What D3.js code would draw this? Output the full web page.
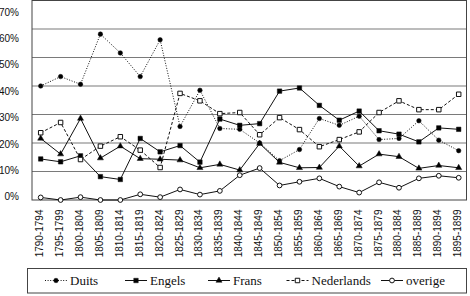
<!DOCTYPE html>
<html>
<head>
<meta charset="utf-8">
<script src="https://cdn.jsdelivr.net/npm/d3@7"></script>
<style>
  html, body { margin: 0; padding: 0; background: #fff; }
  svg { display: block; }
</style>
</head>
<body>
<svg id="chart" width="470" height="296"></svg>
<script>
const categories = ["1790-1794","1795-1799","1800-1804","1805-1809","1810-1814","1815-1819","1820-1824","1825-1829","1830-1834","1835-1839","1840-1844","1845-1849","1850-1854","1855-1859","1860-1864","1865-1869","1870-1874","1875-1879","1880-1884","1885-1889","1890-1894","1895-1899"];
const duits      = [40.0, 43.3, 40.6, 58.2, 51.6, 43.3, 56.2, 25.8, 38.5, 25.1, 24.8, 20.0, 13.8, 17.7, 28.6, 26.2, 29.4, 21.2, 21.6, 27.8, 21.0, 17.3];
const engels     = [14.4, 13.4, 15.5, 8.2, 7.2, 21.6, 16.9, 19.1, 13.3, 28.4, 26.2, 26.8, 38.2, 39.3, 33.2, 28.0, 31.2, 24.3, 23.1, 20.4, 25.3, 24.8];
const frans      = [21.6, 16.1, 28.6, 14.7, 18.9, 14.5, 14.3, 14.0, 11.3, 12.5, 10.5, 19.8, 13.2, 11.3, 11.4, 18.9, 11.9, 16.1, 15.2, 11.1, 12.1, 11.3];
const nederlands = [23.6, 27.2, 14.2, 18.9, 22.2, 17.5, 11.4, 37.4, 34.8, 30.3, 30.7, 22.9, 28.9, 24.7, 18.7, 21.2, 23.9, 30.7, 34.8, 31.7, 31.7, 37.1];
const overige    = [0.9, 0.0, 1.0, 0.0, 0.0, 2.0, 1.0, 3.7, 1.9, 3.2, 8.7, 11.2, 5.1, 6.4, 7.6, 4.7, 2.6, 6.2, 4.3, 7.6, 8.5, 7.8];
const yTicks = [0, 10, 20, 30, 40, 50, 60, 70];
const seriesNames = ["Duits", "Engels", "Frans", "Nederlands", "overige"];

const series = [
  { name: "Duits", values: duits, dash: "1,1.6", symbol: d3.symbolCircle, size: 16, fill: "#000" },
  { name: "Engels", values: engels, dash: null, symbol: d3.symbolSquare, size: 20, fill: "#000" },
  { name: "Frans", values: frans, dash: null, symbol: d3.symbolTriangle, size: 16, fill: "#000" },
  { name: "Nederlands", values: nederlands, dash: "3,2", symbol: d3.symbolSquare, size: 20, fill: "#fff" },
  { name: "overige", values: overige, dash: null, symbol: d3.symbolCircle, size: 18, fill: "#fff" }
];

const svg = d3.select("#chart");
const frame = { left: 32, right: 466.5, top: 0.5, bottom: 200 };

const x = d3.scalePoint().domain(categories).range([40.7, 458.7]);
const y = d3.scaleLinear().domain([0, 70]).range([frame.bottom, frame.top]);
// tick labels in the scanned original sit on a slightly compressed scale
const yLabel = d3.scaleLinear().domain([0, 70]).range([196.7, 12.3]);

// gridlines
svg.append("g").selectAll("line").data(yTicks.filter(d => d > 0 && d < 70)).join("line")
  .attr("x1", frame.left).attr("x2", frame.right)
  .attr("y1", d => y(d)).attr("y2", d => y(d))
  .attr("stroke", "#7a7a7a").attr("stroke-width", 1.2);

// frame
svg.append("rect")
  .attr("x", frame.left).attr("y", frame.top)
  .attr("width", frame.right - frame.left).attr("height", frame.bottom - frame.top)
  .attr("fill", "none").attr("stroke", "#444").attr("stroke-width", 1);

// y labels
svg.append("g").selectAll("text").data(yTicks).join("text")
  .attr("x", 19).attr("y", d => yLabel(d)).attr("dy", "0.35em")
  .attr("text-anchor", "end")
  .attr("font-family", "Liberation Sans, Arial, sans-serif").attr("font-size", 10)
  .attr("fill", "#111")
  .text(d => d + "%");

// x labels
svg.append("g").selectAll("text").data(categories).join("text")
  .attr("transform", d => `translate(${x(d) - 1},209.5) rotate(-90)`)
  .attr("dy", "0.35em")
  .attr("text-anchor", "end")
  .attr("font-family", "Liberation Sans, Arial, sans-serif").attr("font-size", 10)
  .attr("fill", "#111")
  .text(d => d);

const line = d3.line().x((d, i) => x(categories[i])).y(d => y(d));

// lines
series.forEach(s => {
  svg.append("path").datum(s.values)
    .attr("d", line)
    .attr("fill", "none").attr("stroke", "#111").attr("stroke-width", 1)
    .attr("stroke-dasharray", s.dash);
});
// markers
series.forEach(s => {
  svg.append("g").selectAll("path").data(s.values).join("path")
    .attr("transform", (d, i) => `translate(${x(categories[i])},${y(d)})`)
    .attr("d", d3.symbol().type(s.symbol).size(s.size))
    .attr("fill", s.fill).attr("stroke", "#111").attr("stroke-width", s.fill === "#fff" ? 1 : 0.5);
});

// legend
const legend = svg.append("g");
legend.append("rect")
  .attr("x", 27.5).attr("y", 268.5).attr("width", 439).attr("height", 24.5)
  .attr("fill", "#fff").attr("stroke", "#444").attr("stroke-width", 1);
const legendX = d3.scaleOrdinal().domain(seriesNames).range([45, 125, 208, 286.5, 381]);
const legendLineY = 280.5;
series.forEach(s => {
  const lx = legendX(s.name);
  legend.append("line")
    .attr("x1", lx).attr("x2", lx + 22).attr("y1", legendLineY).attr("y2", legendLineY)
    .attr("stroke", "#111").attr("stroke-width", 1).attr("stroke-dasharray", s.dash);
  legend.append("path")
    .attr("transform", `translate(${lx + 11},${legendLineY})`)
    .attr("d", d3.symbol().type(s.symbol).size(s.size))
    .attr("fill", s.fill).attr("stroke", "#111").attr("stroke-width", s.fill === "#fff" ? 1 : 0.5);
  legend.append("text")
    .attr("x", lx + 25).attr("y", 285)
    .attr("font-family", "Liberation Serif, Times New Roman, serif").attr("font-size", 13)
    .attr("fill", "#111")
    .text(s.name);
});
</script>
</body>
</html>
